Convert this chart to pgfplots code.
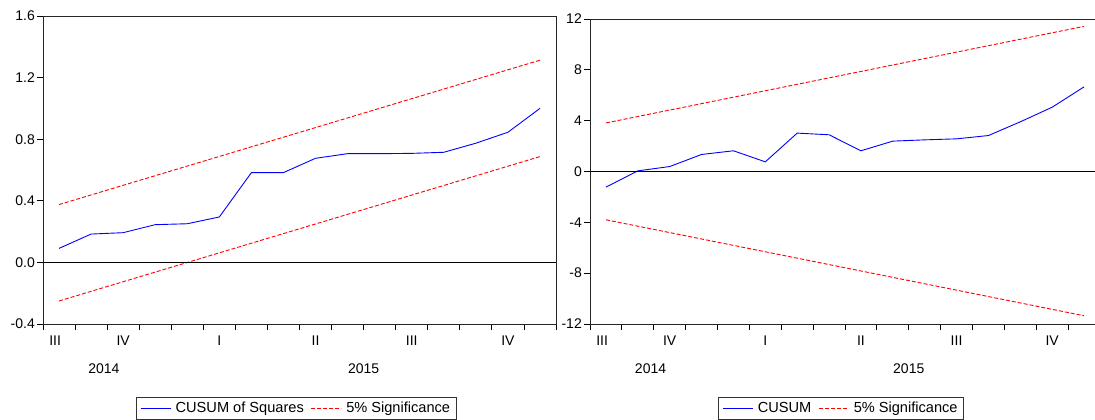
\documentclass[border=0pt]{standalone}
\usepackage{fontspec}
\setmainfont{Liberation Sans}
\usepackage{pgfplots}
\pgfplotsset{compat=1.18}
\definecolor{eblue}{RGB}{0,0,255}
\definecolor{ered}{RGB}{255,0,0}

\pgfplotstableread{
i  cs
0  0.091
1  0.184
2  0.193
3  0.245
4  0.251
5  0.295
6  0.583
7  0.583
8  0.676
9  0.706
10 0.706
11 0.708
12 0.715
13 0.774
14 0.845
15 1.000
}\cusumsq

\pgfplotstableread{
i  cs
0  -1.23
1  0.05
2  0.39
3  1.34
4  1.63
5  0.76
6  3.02
7  2.89
8  1.63
9  2.39
10 2.49
11 2.57
12 2.83
13 3.91
14 5.06
15 6.66
}\cusum

\tikzset{
  quarter/.style={font=\fontsize{14pt}{16pt}\selectfont, anchor=center, yshift=-16.7pt},
  year/.style={font=\fontsize{14pt}{16pt}\selectfont, anchor=center, yshift=-44.3pt},
}

\begin{document}
\begin{tikzpicture}
\pgfplotsset{
  evstyle/.style={
    scale only axis, clip=false,
    font=\fontsize{14pt}{16pt}\selectfont,
    xmin=-0.5, xmax=15.5,
    xtick={-0.5,0.5,...,15.5}, xticklabel={\relax},
    xtick pos=bottom, ytick pos=left,
    tick align=outside, major tick length=6pt,
    tick style={black, line width=0.8pt},
    axis line style={black!85, line width=0.9pt},
    yticklabel style={inner sep=2pt},
    legend columns=2,
    legend image code/.code={\draw[##1] (0pt,0pt) -- (30pt,0pt);},
    legend style={draw=black!80, line width=0.8pt, anchor=north west,
      font=\fontsize{14.6pt}{16pt}\selectfont, inner xsep=4pt, inner ysep=3pt,
      /tikz/every odd column/.append style={column sep=2.5pt},
      /tikz/every even column/.append style={column sep=5pt}},
    every axis plot/.append style={line width=0.9pt},
  },
}

% Left panel: CUSUM of Squares
\begin{axis}[evstyle,
  at={(43pt,96pt)}, anchor=south west, width=513pt, height=308pt,
  ymin=-0.4, ymax=1.6, ytick={-0.4,0,0.4,0.8,1.2,1.6},
  yticklabels={-0.4,0.0,0.4,0.8,1.2,1.6},
  legend style={at={(axis description cs:0.181,-0.237)}},
]
\addplot[eblue, line width=0.9pt] table[x=i,y=cs] {\cusumsq};
\addlegendentry{CUSUM of Squares}
\addplot[ered, dash pattern=on 4pt off 2pt, line width=0.9pt] coordinates {(0,0.3755) (15,1.313)};
\addlegendentry{5\% Significance}
\addplot[ered, dash pattern=on 4pt off 2pt, line width=0.9pt, forget plot] coordinates {(0,-0.2505) (15,0.687)};
\addplot[black, line width=0.8pt, forget plot] coordinates {(-0.5,0) (15.5,0)};
\node[quarter] at (axis cs:-0.12,-0.4) {III};
\node[quarter] at (axis cs:2,-0.4) {IV};
\node[quarter] at (axis cs:5,-0.4) {I};
\node[quarter] at (axis cs:8,-0.4) {II};
\node[quarter] at (axis cs:11,-0.4) {III};
\node[quarter] at (axis cs:14,-0.4) {IV};
\node[year] at (axis cs:1.4,-0.4) {2014};
\node[year] at (axis cs:9.5,-0.4) {2015};
\end{axis}

% Right panel: CUSUM
\begin{axis}[evstyle,
  at={(590pt,96pt)}, anchor=south west, width=510pt, height=305pt,
  ymin=-12, ymax=12, ytick={-12,-8,-4,0,4,8,12},
  yticklabels={-12,-8,-4,0,4,8,12},
  legend style={at={(axis description cs:0.251,-0.2393)}},
]
\addplot[eblue, line width=0.9pt] table[x=i,y=cs] {\cusum};
\addlegendentry{CUSUM}
\addplot[ered, dash pattern=on 4pt off 2pt, line width=0.9pt] coordinates {(0,3.82) (15,11.42)};
\addlegendentry{5\% Significance}
\addplot[ered, dash pattern=on 4pt off 2pt, line width=0.9pt, forget plot] coordinates {(0,-3.80) (15,-11.35)};
\addplot[black, line width=0.8pt, forget plot] coordinates {(-0.5,0) (15.5,0)};
\node[quarter] at (axis cs:-0.12,-12) {III};
\node[quarter] at (axis cs:2,-12) {IV};
\node[quarter] at (axis cs:5,-12) {I};
\node[quarter] at (axis cs:8,-12) {II};
\node[quarter] at (axis cs:11,-12) {III};
\node[quarter] at (axis cs:14,-12) {IV};
\node[year] at (axis cs:1.4,-12) {2014};
\node[year] at (axis cs:9.5,-12) {2015};
\end{axis}

\pgfresetboundingbox
\useasboundingbox (0pt,0pt) rectangle (1095pt,420pt);
\end{tikzpicture}
\end{document}
